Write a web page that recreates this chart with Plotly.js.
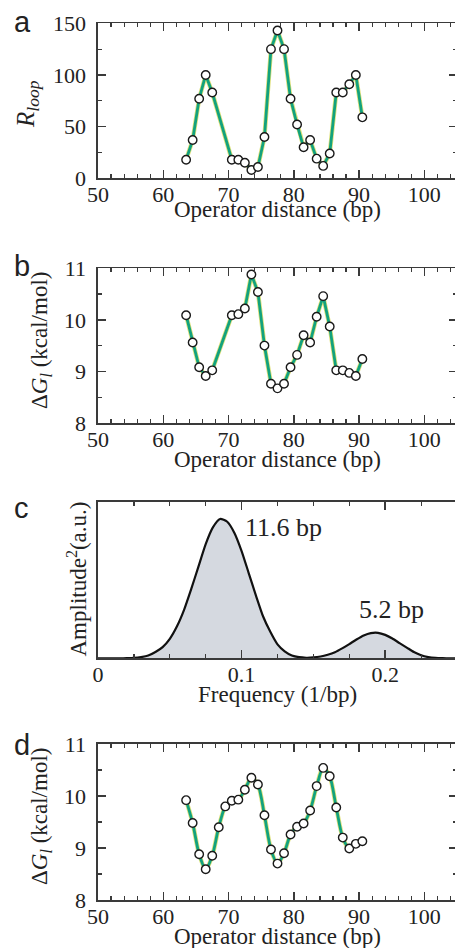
<!DOCTYPE html>
<html>
<head>
<meta charset="utf-8">
<script src="https://cdn.plot.ly/plotly-3.0.1.min.js"></script>
<style>
html, body { margin:0; padding:0; overflow:hidden; background:#fff; }
#chart { width:470px; height:948px; }
</style>
</head>
<body>
<div id="chart"></div>
<script>
// ---- data ----
var distAB = [63.5,64.5,65.5,66.5,67.5,70.5,71.5,72.5,73.5,74.5,75.5,76.5,77.5,78.5,79.5,80.5,81.5,82.5,83.5,84.5,85.5,86.5,87.5,88.5,89.5,90.5];
var rLoop  = [18,37,77,100,83,18,18,15,8,11,40,125,143,125,77,52,30,37,19,12,24,83,83,91,100,59];
var dGb    = [10.09,9.56,9.08,8.91,9.02,10.09,10.11,10.22,10.88,10.54,9.50,8.76,8.67,8.76,9.08,9.32,9.70,9.56,10.06,10.46,9.87,9.02,9.02,8.97,8.91,9.24];

var distD  = [63.5,64.5,65.5,66.5,67.5,68.5,69.5,70.5,71.5,72.5,73.5,74.5,75.5,76.5,77.5,78.5,79.5,80.5,81.5,82.5,83.5,84.5,85.5,86.5,87.5,88.5,89.5,90.5];
var dGd    = [9.92,9.48,8.88,8.59,8.85,9.40,9.80,9.91,9.93,10.12,10.35,10.22,9.63,8.97,8.70,8.90,9.26,9.41,9.47,9.72,10.19,10.54,10.38,9.78,9.20,8.99,9.08,9.13];

var freq = [0,0.005,0.01,0.015,0.02,0.025,0.03,0.035,0.04,0.045,0.05,0.055,0.06,0.065,0.07,0.075,0.08,0.085,0.09,0.095,0.1,0.105,0.11,0.115,0.12,0.125,0.13,0.135,0.14,0.145,0.15,0.155,0.16,0.165,0.17,0.175,0.18,0.185,0.19,0.195,0.2,0.205,0.21,0.215,0.22,0.225,0.23,0.235,0.24,0.245,0.25];
var amp2 = [0,0,0,0,0.001,0.003,0.009,0.02,0.045,0.08,0.14,0.23,0.35,0.5,0.66,0.82,0.94,1.0,0.98,0.9,0.77,0.61,0.45,0.3,0.19,0.1,0.05,0.02,0.008,0.004,0.006,0.013,0.026,0.044,0.071,0.102,0.135,0.164,0.181,0.183,0.168,0.142,0.109,0.077,0.045,0.022,0.009,0.003,0.001,0,0];

var xTicksDist = [50,60,70,80,90,100];
var xTicksFreq = [0,0.1,0.2];
var peakLabels = ['11.6 bp','5.2 bp'];
var panelLabels = ['a','b','c','d'];

// ---- layout helpers ----
var W = 470, H = 948, L = 98, R = 13, PW = W - L - R;
function px2x(px){ return (px - L) / PW; }
function px2y(py){ return 1 - py / H; }
function dom(top, bottom){ return [px2y(bottom), px2y(top)]; }

var SERIF = 'Liberation Serif, Times New Roman, serif';
var SANS = 'Liberation Sans, Arial, sans-serif';
var AX = '#3a3a3a';
var GREEN = '#12a27e';

function xax(domainAnchor, range, dtick, minorDtick, vals){
  return {
    anchor: domainAnchor, domain:[0,1], range: range,
    tickmode:'array', tickvals: vals, ticktext: vals.map(String),
    ticks:'inside', ticklen:8, tickwidth:1.5, tickcolor:AX,
    minor:{ dtick:minorDtick, tick0:range[0], ticks:'inside', ticklen:4, tickwidth:1.2, tickcolor:AX, showgrid:false },
    mirror:'allticks', showline:true, linecolor:AX, linewidth:1.6,
    showgrid:false, zeroline:false, fixedrange:true,
    tickfont:{family:SERIF, size:22, color:'#222'}, ticklabelstandoff:-4
  };
}
function yax(anchor, domain, range, dtick, minorDtick){
  return {
    anchor: anchor, domain: domain, range: range,
    tick0: range[0], dtick: dtick,
    ticks:'inside', ticklen:8, tickwidth:1.5, tickcolor:AX,
    minor:{ dtick:minorDtick, tick0:range[0], ticks:'inside', ticklen:4, tickwidth:1.2, tickcolor:AX, showgrid:false },
    mirror:'allticks', showline:true, linecolor:AX, linewidth:1.6,
    showgrid:false, zeroline:false, fixedrange:true,
    tickfont:{family:SERIF, size:22, color:'#222'}, ticklabelstandoff:6
  };
}

function series(x, y, xa, ya, shape){
  return [
    {x:x, y:y, xaxis:xa, yaxis:ya, type:'scatter', mode:'lines',
     line:{color:'#dfe07a', width:4.4, shape:shape, smoothing:0.8}, hoverinfo:'skip', showlegend:false},
    {x:x, y:y, xaxis:xa, yaxis:ya, type:'scatter', mode:'lines+markers',
     line:{color:GREEN, width:2.8, shape:shape, smoothing:0.8},
     marker:{symbol:'circle', size:8.5, color:'#fff', line:{color:'#1a1a1a', width:1.4}},
     showlegend:false}
  ];
}

var data = [].concat(
  series(distAB, rLoop, 'x', 'y', 'linear'),
  series(distAB, dGb, 'x2', 'y2', 'linear'),
  [{x:freq, y:amp2, xaxis:'x3', yaxis:'y3', type:'scatter', mode:'lines',
    fill:'tozeroy', fillcolor:'#d5d9e0', line:{color:'#111', width:2.2, shape:'spline', smoothing:0.6}, showlegend:false}],
  series(distD, dGd, 'x4', 'y4', 'spline')
);

var yc = yax('x3', dom(501.7, 658.3), [0, 1.124], 1, 1);
yc.ticks = ''; yc.showticklabels = false; yc.minor = {ticks:''}; yc.mirror = true;

var layout = {
  width: W, height: H,
  margin:{l:L, r:R, t:0, b:0},
  font:{family:SERIF, size:22, color:'#222'},
  paper_bgcolor:'#fff', plot_bgcolor:'#fff',
  showlegend:false,
  xaxis:  xax('y',  [50,105], 10, 2, xTicksDist),
  yaxis:  yax('x',  dom(23.3, 178.3), [0,150], 50, 25),
  xaxis2: xax('y2', [50,105], 10, 2, xTicksDist),
  yaxis2: yax('x2', dom(268.3, 422.9), [8,11], 1, 0.5),
  xaxis3: xax('y3', [0,0.25], 0.1, 0.025, xTicksFreq),
  yaxis3: yc,
  xaxis4: xax('y4', [50,105], 10, 2, xTicksDist),
  yaxis4: yax('x4', dom(744, 900), [8,11], 1, 0.5),
  annotations: []
};

var ann = layout.annotations;
function addText(text, xpx, ypx, opts){
  var a = Object.assign({text:text, xref:'paper', yref:'paper', x:px2x(xpx), y:px2y(ypx),
    showarrow:false, xanchor:'center', yanchor:'middle',
    font:{family:SERIF, size:23, color:'#222'}}, opts||{});
  ann.push(a);
}
// panel letters
var letterPos = [[12,22],[12,266],[12,508],[12,745]];
panelLabels.forEach(function(t,i){
  addText(t, letterPos[i][0], letterPos[i][1], {xanchor:'left', font:{family:SANS, size:29, color:'#222'}});
});
// x titles
addText('Operator distance (bp)', 277.5, 210);
addText('Operator distance (bp)', 277.5, 459.5);
addText('Frequency (1/bp)', 277.5, 694);
addText('Operator distance (bp)', 277.5, 936);
// y titles
addText('<i>R</i><sub><i>loop</i></sub>', 27, 104, {textangle:-90, font:{family:SERIF, size:25, color:'#222'}});
addText('Δ<i>G</i><sub><i>l</i></sub> (kcal/mol)', 41, 341, {textangle:-90});
addText('Amplitude<sup>2</sup>(a.u.)', 77, 579.5, {textangle:-90});
addText('Δ<i>G</i><sub><i>l</i></sub> (kcal/mol)', 41, 817, {textangle:-90});
// peak labels
addText(peakLabels[0], 243, 527, {xanchor:'left', font:{family:SERIF, size:26, color:'#222'}});
addText(peakLabels[1], 391.7, 609, {font:{family:SERIF, size:26, color:'#222'}});

Plotly.newPlot('chart', data, layout, {staticPlot:true, displayModeBar:false});
</script>
</body>
</html>
